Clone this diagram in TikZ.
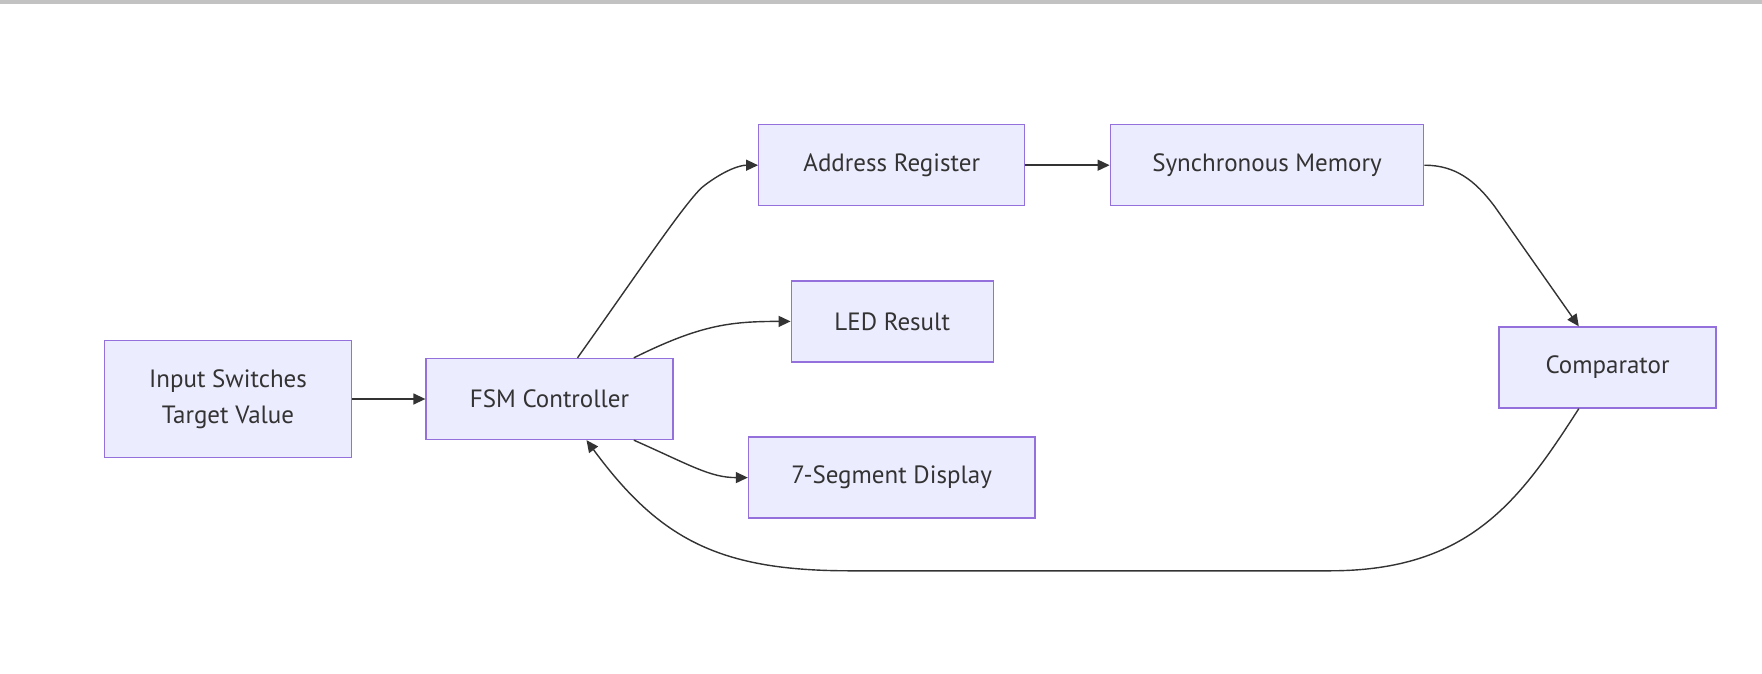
\documentclass[tikz,border=0pt]{standalone}
\usepackage{fontspec}
\setmainfont{PT Sans}
\usetikzlibrary{arrows.meta,calc}
\definecolor{nodefill}{HTML}{ECECFF}
\definecolor{nodeline}{HTML}{9370DB}
\definecolor{edgecol}{HTML}{333333}
\definecolor{barcol}{HTML}{C2C2C2}
\tikzset{
  box/.style={draw=nodeline,fill=nodefill,line width=1.3pt,inner sep=0pt,
    text=edgecol,align=center,minimum height=81pt,
    font=\fontsize{25}{36}\selectfont},
  link/.style={draw=edgecol,line width=1.4pt,
    -{Triangle[length=12pt,width=11pt]}},
}
\begin{document}
\begin{tikzpicture}[x=1pt,y=-1pt]
\useasboundingbox[fill=white] (0,0) rectangle (1762,674);
\fill[barcol] (0,0) rectangle (1762,4);
\node[box,minimum width=247pt,minimum height=117pt] (inp) at (228,399) {Input Switches\\Target Value};
\node[box,minimum width=247pt] (fsm) at (549.5,399) {FSM Controller};
\node[box,minimum width=266pt] (addr) at (891.7,165.2) {Address Register};
\node[box,minimum width=313.5pt] (mem) at (1267,165.2) {Synchronous Memory};
\node[box,minimum width=202pt] (led) at (892.2,321.4) {LED Result};
\node[box,minimum width=286.5pt] (seg) at (891.7,477.6) {7-Segment Display};
\node[box,minimum width=217pt] (cmp) at (1607.5,367.5) {Comparator};
\coordinate (f1) at ($(fsm.north)+(28,0)$);
\coordinate (f2) at ($(fsm.north)+(84.3,0)$);
\coordinate (f3) at ($(fsm.south)+(84.3,0)$);
\coordinate (f4) at ($(fsm.south)+(37,0)$);
\coordinate (c1) at ($(cmp.north)+(-28.7,0)$);
\coordinate (c2) at ($(cmp.south)+(-28.7,0)$);
\draw[link] (inp.east) -- (fsm.west);
\draw[link] (f1) .. controls (640,270) and (690,195) .. (705,185) .. controls (725,170) and (740,165.2) .. (addr.west);
\draw[link] (f2) .. controls (700,325) and (730,321.4) .. (led.west);
\draw[link] (f3) .. controls (690,465) and (710,477.6) .. (seg.west);
\draw[link] (addr.east) -- (mem.west);
\draw[link] (mem.east) .. controls (1455,165.2) and (1475,180) .. (1495,207) -- (c1);
\draw[link] (c2) .. controls (1520,500) and (1470,570.8) .. (1330,570.8) -- (850,570.8) .. controls (720,570.8) and (660,540) .. (f4);
\end{tikzpicture}
\end{document}
